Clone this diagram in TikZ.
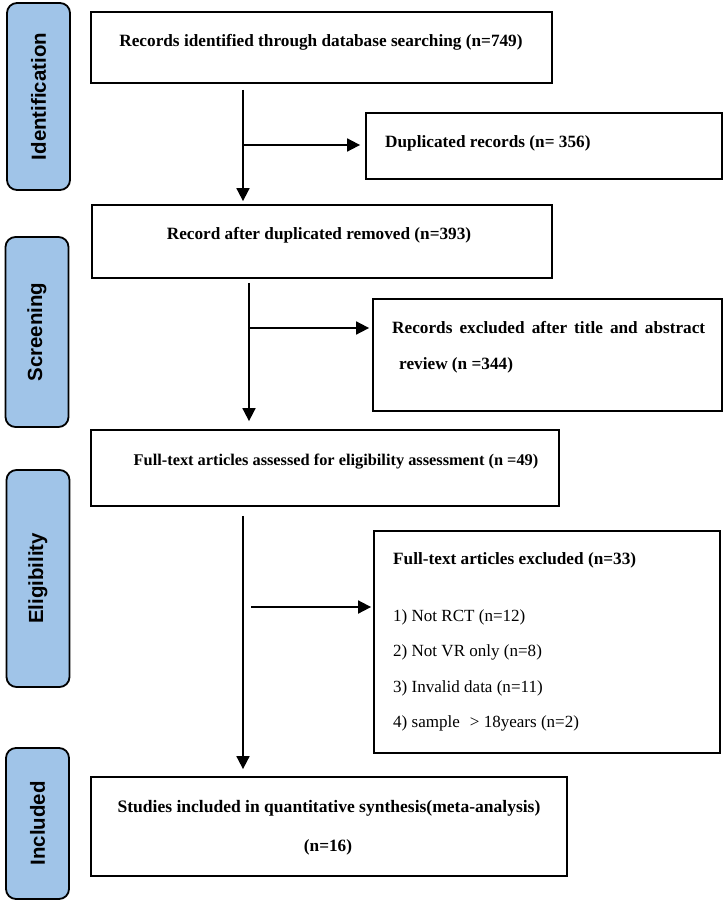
\documentclass[tikz,border=0pt]{standalone}
\usepackage{fontspec}
\setmainfont{Liberation Serif}
\newfontfamily\sidefont{Liberation Sans}
\usetikzlibrary{arrows.meta}
\definecolor{sideblue}{RGB}{160,196,232}
\begin{document}
\begin{tikzpicture}[x=1bp,y=-1bp,
  box/.style={draw=black, line width=1.8bp, inner sep=0pt},
  side/.style={draw=black, fill=sideblue, line width=1.8bp, rounded corners=10bp, inner sep=0pt,
    font=\sidefont\bfseries\fontsize{20.5}{24}\selectfont},
  txt/.style={inner sep=0pt, font=\bfseries\fontsize{17.3}{20}\selectfont},
  reg/.style={inner sep=0pt, font=\fontsize{17.1}{20}\selectfont},
  arr/.style={line width=1.8bp, -{Triangle[length=13bp,width=13bp]}}]
\useasboundingbox (0,0) rectangle (726,902);

% side labels
\node[side, rotate=90, minimum width=187bp, minimum height=63bp] (sid) at (38.5,96.5) {Identification};
\node[side, rotate=90, minimum width=190bp, minimum height=63bp] (sscr) at (37,332) {Screening};
\node[side, rotate=90, minimum width=217bp, minimum height=63bp] (seli) at (38,578.5) {Eligibility};
\node[side, rotate=90, minimum width=151bp, minimum height=63bp] (sinc) at (37.5,823.5) {Included};

% boxes
\node[box, minimum width=461bp, minimum height=71bp] (top) at (321.5,47.5) {};
\node[box, minimum width=356bp, minimum height=66bp] (dup) at (544,146) {};
\node[box, minimum width=460bp, minimum height=73bp] (rec) at (322,241.5) {};
\node[box, minimum width=349bp, minimum height=112bp] (rexcl) at (547.5,355) {};
\node[box, minimum width=468bp, minimum height=76bp] (full) at (325,468) {};
\node[box, minimum width=346bp, minimum height=222bp] (excl) at (547,642) {};
\node[box, minimum width=476bp, minimum height=99bp] (stud) at (329,826.5) {};

% texts
\node[txt] (ttop) at (321,42) {Records identified through database searching (n=749)};
\node[txt, anchor=west] (tdup) at (385,143) {Duplicated records (n= 356)};
\node[txt] (trec) at (319,235) {Record after duplicated removed (n=393)};
\node[txt, anchor=west] (trx1) at (392,328) {\makebox[313bp][s]{Records excluded after title and abstract}};
\node[txt, anchor=west] (trx2) at (399,365) {review (n =344)};
\node[txt, font=\bfseries\fontsize{16.4}{20}\selectfont] (tfull) at (336,462) {Full-text articles assessed for eligibility assessment (n =49)};
\node[txt, anchor=west] (tex0) at (393,560) {Full-text articles excluded (n=33)};
\node[reg, anchor=west] (tex1) at (393,617) {1) Not RCT (n=12)};
\node[reg, anchor=west] (tex2) at (393,652) {2) Not VR only (n=8)};
\node[reg, anchor=west] (tex3) at (393,688) {3) Invalid data (n=11)};
\node[reg, anchor=west] (tex4) at (393,723) {4) sample\hspace{10bp}> 18years (n=2)};
\node[txt, font=\bfseries\fontsize{17.6}{20}\selectfont] (ts1) at (329,808) {Studies included in quantitative synthesis(meta-analysis)};
\node[txt] (ts2) at (328,847) {(n=16)};

% connectors
\coordinate (c1) at (243,145);
\draw[arr, shorten <=6bp, shorten >=3bp] (top.south -| c1) -- (rec.north -| c1);
\draw[arr, shorten >=5bp] (c1) -- (c1 -| dup.west);
\coordinate (c2) at (249,328);
\draw[arr, shorten <=4bp, shorten >=8bp] (rec.south -| c2) -- (full.north -| c2);
\draw[arr, shorten >=3bp] (c2) -- (c2 -| rexcl.west);
\coordinate (c3) at (243,607);
\coordinate (c3b) at (251,607);
\draw[arr, shorten <=9bp, shorten >=7bp] (full.south -| c3) -- (stud.north -| c3);
\draw[arr, shorten >=2bp] (c3b) -- (c3b -| excl.west);
\end{tikzpicture}
\end{document}
